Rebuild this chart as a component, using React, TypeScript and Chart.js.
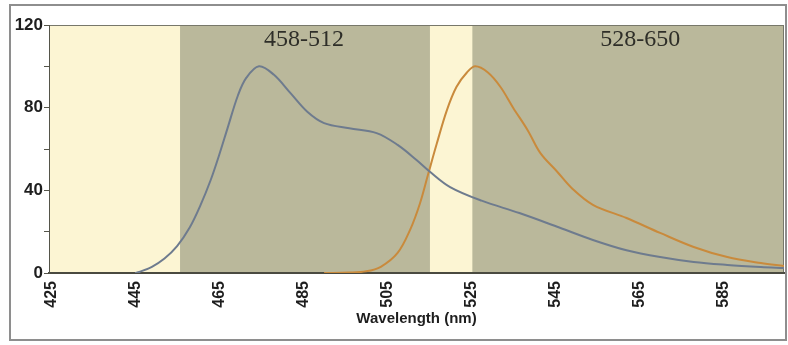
import React, { useEffect, useRef } from "react";
import { Chart, registerables } from "chart.js";

Chart.register(...registerables);

// Emission spectra (wavelength nm, relative intensity)
const blueWavelengths = [445, 446, 449, 452, 455, 458, 460.5, 463, 465, 467, 469.5, 471.5, 474.5, 478, 482, 486, 490, 496, 502.5, 507.5, 512, 515.2, 520, 527.5, 536.5, 546, 554, 562, 570, 578, 586, 594, 599.5];
const blueValues = [0, 0.5, 3, 7, 13, 22, 32.5, 45, 57, 70, 86, 94.5, 100, 96, 87, 78, 72.5, 70, 67.7, 62, 54.7, 49, 41.6, 35, 29, 22, 16, 11, 7.7, 5.3, 3.9, 2.9, 2.4];

const orangeWavelengths = [490, 496, 500, 503.5, 507.5, 510.5, 512.8, 514.8, 516.8, 519.2, 521.5, 524, 526, 529, 532, 535, 538.5, 541.5, 545.5, 549, 554, 562, 570, 578, 586, 594, 599.5];
const orangeValues = [0, 0.2, 0.8, 3, 9.7, 21, 33.5, 48, 62.4, 78.6, 90, 97, 100, 97, 90, 80, 69, 58, 49, 41, 33, 26.6, 19.4, 12.6, 7.7, 4.8, 3.4];

// Filter bands (nm) and their labels
const bandStarts = [455.7, 525.3];
const bandEnds = [515.2, 599.5];
const bandLabels = ["458-512", "528-650"];
const bandLabelX = [485.2, 565.3];
const bandLabelY = 113;

const xTickValues = [425, 445, 465, 485, 505, 525, 545, 565, 585];
const yTickValues = [0, 20, 40, 60, 80, 100, 120];
const yLabelStep = 40;

const xMin = 424.5;
const xMax = 599.5;

const backgroundPlugin = {
  id: "bgBands",
  beforeDraw(chart: any) {
    const { ctx, chartArea, scales } = chart;
    const x = scales.x;
    ctx.save();
    ctx.fillStyle = "#ffffff";
    ctx.fillRect(0, 0, chart.width, chart.height);
    ctx.strokeStyle = "#8e8e8e";
    ctx.lineWidth = 2;
    ctx.strokeRect(10, 5, 776, 335);
    ctx.fillStyle = "#fcf5d3";
    ctx.fillRect(chartArea.left, chartArea.top, chartArea.right - chartArea.left, chartArea.bottom - chartArea.top);
    ctx.fillStyle = "#bab89b";
    for (let i = 0; i < bandStarts.length; i++) {
      const a = x.getPixelForValue(bandStarts[i]);
      const b = x.getPixelForValue(bandEnds[i]);
      ctx.fillRect(a, chartArea.top, b - a, chartArea.bottom - chartArea.top);
    }
    ctx.strokeStyle = "#77776a";
    ctx.lineWidth = 1;
    ctx.strokeRect(chartArea.left + 0.5, chartArea.top + 0.5, chartArea.right - chartArea.left - 1, chartArea.bottom - chartArea.top);
    ctx.restore();
  },
  beforeDatasetsDraw(chart: any) {
    const { ctx, scales } = chart;
    ctx.save();
    ctx.fillStyle = "#2e2e28";
    ctx.font = '24px "Liberation Serif", "Times New Roman", serif';
    ctx.textAlign = "center";
    ctx.textBaseline = "middle";
    for (let i = 0; i < bandLabels.length; i++) {
      ctx.fillText(bandLabels[i], scales.x.getPixelForValue(bandLabelX[i]), scales.y.getPixelForValue(bandLabelY));
    }
    ctx.restore();
  },
};

export default function App() {
  const ref = useRef<HTMLCanvasElement | null>(null);

  useEffect(() => {
    if (!ref.current) return;
    const chart = new Chart(ref.current, {
      type: "line",
      data: {
        datasets: [
          {
            label: "458-512",
            data: blueWavelengths.map((w, i) => ({ x: w, y: blueValues[i] })),
            borderColor: "#6e7b8e",
            borderWidth: 2,
            pointRadius: 0,
            tension: 0.35,
            fill: false,
          },
          {
            label: "528-650",
            data: orangeWavelengths.map((w, i) => ({ x: w, y: orangeValues[i] })),
            borderColor: "#c98a3c",
            borderWidth: 2,
            pointRadius: 0,
            tension: 0.35,
            fill: false,
          },
        ],
      },
      options: {
        animation: false,
        responsive: false,
        devicePixelRatio: 1,
        layout: { padding: { left: 0, right: 4, top: 25, bottom: 0 } },
        plugins: { legend: { display: false }, tooltip: { enabled: false }, title: { display: false } },
        scales: {
          x: {
            type: "linear",
            min: xMin,
            max: xMax,
            afterBuildTicks: (s: any) => {
              s.ticks = xTickValues.map((v) => ({ value: v }));
            },
            afterFit: (s: any) => {
              s.height = 72;
            },
            grid: { display: false },
            border: { display: true, color: "#4a4a40", width: 2 },
            ticks: {
              autoSkip: false,
              maxRotation: 90,
              minRotation: 90,
              padding: 0,
              color: "#1e1e1e",
              font: { family: '"Liberation Sans", Arial, sans-serif', size: 16, weight: "bold" },
              callback: (v: any) => String(v),
            },
            title: {
              display: true,
              text: "Wavelength (nm)",
              color: "#1e1e1e",
              font: { family: '"Liberation Sans", Arial, sans-serif', size: 15, weight: "bold" },
              padding: { top: 0, bottom: 17 },
            },
          },
          y: {
            type: "linear",
            min: 0,
            max: 120,
            afterBuildTicks: (s: any) => {
              s.ticks = yTickValues.map((v) => ({ value: v }));
            },
            afterFit: (s: any) => {
              s.width = 49;
            },
            grid: { display: true, drawOnChartArea: false, drawTicks: true, tickLength: 5, color: "#55554a" },
            border: { display: true, color: "#55554a", width: 1 },
            ticks: {
              padding: 1,
              color: "#1e1e1e",
              font: { family: '"Liberation Sans", Arial, sans-serif', size: 17, weight: "bold" },
              callback: (v: any) => (Number(v) % yLabelStep === 0 ? String(v) : ""),
            },
          },
        },
      },
      plugins: [backgroundPlugin],
    });
    return () => chart.destroy();
  }, []);

  return (
    <div style={{ position: "absolute", left: 0, top: 0, width: 788, height: 345 }}>
      <canvas ref={ref} width={788} height={345} style={{ width: 788, height: 345, display: "block" }} />
    </div>
  );
}
